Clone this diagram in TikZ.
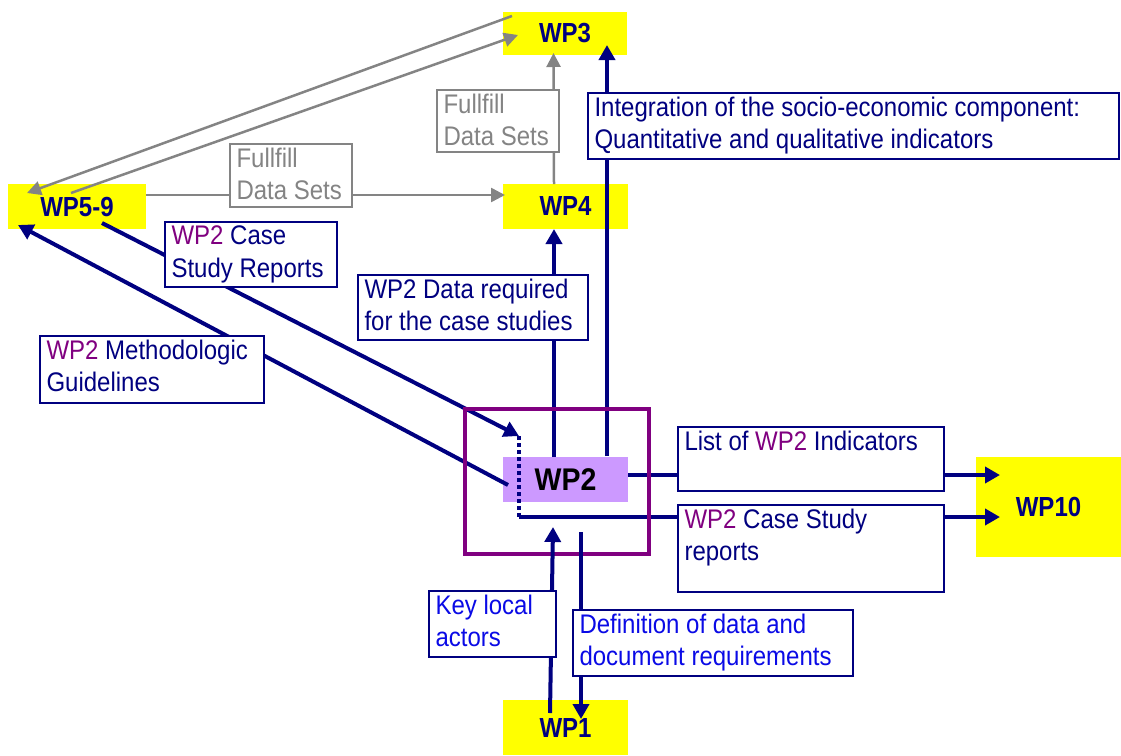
\documentclass[tikz,border=0pt]{standalone}
\usepackage{graphicx}
\usepackage{fontspec}
\setmainfont{Liberation Sans}
\usetikzlibrary{arrows.meta}
\definecolor{navy}{RGB}{0,0,128}
\definecolor{wppurple}{RGB}{128,0,128}
\definecolor{lblblue}{RGB}{10,10,230}
\definecolor{lav}{RGB}{204,153,255}
\definecolor{ygold}{RGB}{255,255,0}
\definecolor{gline}{RGB}{132,132,132}
\newcommand{\wpp}{\textcolor{wppurple}{WP2}}
\newcommand{\lbltext}[3]{\scalebox{1}[1.12]{\parbox[c][\dimexpr #2pt*100/112\relax][t]{#1pt}{\raggedright #3}}}
\newcommand{\tall}[1]{\scalebox{1}[1.15]{#1}}
\begin{document}
\begin{tikzpicture}[x=1pt,y=-1pt,
  every node/.style={font=\fontsize{24}{29}\selectfont, outer sep=0pt},
  wpbox/.style={fill=ygold, inner sep=0pt, font=\fontsize{24}{28}\selectfont\bfseries, text=navy},
  lbl/.style={draw=navy, line width=1.6pt, fill=white, text=navy, inner xsep=6.5pt, inner ysep=4pt, anchor=north west},
  glbl/.style={lbl, draw=gline, text=gline},
  blbl/.style={lbl, text=lblblue},
  nav/.style={draw=navy, line width=4pt, -{Triangle[length=15pt,width=16pt]}},
  navdot/.style={draw=navy, line width=3.5pt, dash pattern=on 4pt off 3pt},
  garr/.style={draw=gline, line width=2.5pt, -{Triangle[length=14pt,width=14pt]}},
]
\useasboundingbox (0,0) rectangle (1121,755);

% work package boxes
\node[wpbox, minimum width=124pt, minimum height=43pt] (wp3) at (565,33.5) {\tall{WP3}};
\node[wpbox, minimum width=125pt, minimum height=45pt] (wp4) at (565.5,206.5) {\tall{WP4}};
\node[wpbox, minimum width=138pt, minimum height=45pt] (wp59) at (77,206.5) {\tall{WP5-9}};
\node[wpbox, minimum width=145pt, minimum height=100pt] (wp10) at (1048.5,507) {\tall{WP10}};
\node[wpbox, minimum width=125pt, minimum height=55pt] (wp1) at (565.5,727.5) {\tall{WP1}};
\node[wpbox, fill=lav, text=black, font=\fontsize{28.5}{32}\selectfont\bfseries,
      minimum width=125pt, minimum height=45pt] (wp2) at (565.5,479.5) {\scalebox{1}[1.1]{WP2}};

% grey connectors
\draw[garr] ([yshift=11.5pt]wp59.east) -- ([xshift=2pt,yshift=11.5pt]wp4.west);
\draw[garr] ([xshift=-11.5pt]wp4.north) -- ([xshift=-11.5pt,yshift=2pt]wp3.south);
\draw[garr] ([xshift=9pt,yshift=-4pt]wp3.north west) -- ([xshift=19pt,yshift=-9pt]wp59.north west);
\draw[garr] ([xshift=63pt,yshift=-9pt]wp59.north west) -- ([xshift=15pt,yshift=-1.5pt]wp3.west);

% navy connectors
\coordinate (cs) at (519,436);
\coordinate (cb) at (519,517);
\draw[nav] ([xshift=-11.5pt]wp2.north) -- ([xshift=-11.5pt]wp4.south);
\draw[nav] ([xshift=41.5pt,yshift=1pt]wp2.north) -- ([xshift=42pt,yshift=10pt]wp3.south);
\draw[nav] ([xshift=25pt,yshift=6pt]wp59.south) -- (cs);
\draw[navdot] (cs) -- (cb);
\draw[nav, shorten >=-24pt] (cb) -- (cb -| wp10.west);
\draw[nav] ([xshift=5pt,yshift=-5.5pt]wp2.west) -- ([xshift=10pt,yshift=4pt]wp59.south west);
\draw[nav, shorten >=-24pt] ([yshift=4.5pt]wp2.east) -- ([yshift=4.5pt]wp2.east -| wp10.west);

% frame round WP2
\node[draw=wppurple, line width=4.5pt, minimum width=184pt, minimum height=145pt, inner sep=0pt] (wpframe) at (557,481.5) {};

\draw[nav] ([xshift=-15.5pt,yshift=-13pt]wp1.north) -- ([xshift=-4pt,yshift=27pt]wpframe.south);
\draw[nav] ([xshift=24pt,yshift=22pt]wpframe.south) -- ([xshift=15.5pt,yshift=-19pt]wp1.north);

% labels
\node[glbl] (gfs1) at (437,90) {\lbltext{109}{54}{Fullfill\\Data Sets}};
\node[glbl] (gfs2) at (230,144) {\lbltext{109}{55}{Fullfill\\Data Sets}};
\node[lbl] (integ) at (588,93) {\lbltext{518}{58}{Integration of the socio-economic component:\\Quantitative and qualitative indicators}};
\node[lbl] (csr) at (165,222) {\lbltext{159}{57}{\wpp{} Case\\Study Reports}};
\node[lbl] (dreq) at (358,275) {\lbltext{217}{57}{WP2 Data required\\for the case studies}};
\node[lbl] (meth) at (40,336) {\lbltext{211}{59}{\wpp{} Methodologic\\Guidelines}};
\node[lbl] (list) at (678,427) {\lbltext{253}{56}{List of \wpp{} Indicators}};
\node[lbl] (csr2) at (678,505) {\lbltext{253}{79}{\wpp{} Case Study\\reports}};
\node[blbl] (key) at (429,591) {\lbltext{114}{58}{Key local\\actors}};
\node[blbl] (def) at (573,610) {\lbltext{267}{58}{Definition of data and\\document requirements}};
\end{tikzpicture}
\end{document}
